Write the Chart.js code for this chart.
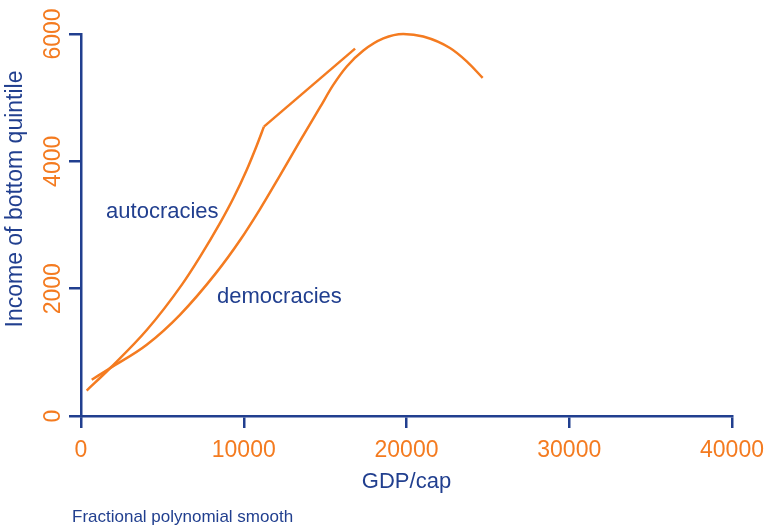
<!DOCTYPE html>
<html lang="en">
<head>
<meta charset="UTF-8">
<title>Income of bottom quintile by GDP/cap</title>
<script src="https://cdn.jsdelivr.net/npm/chart.js"></script>
<style>
  html, body { margin: 0; padding: 0; background: #fff; }
</style>
</head>
<body>
<canvas id="chart" width="769" height="528"></canvas>
<script>
// fractional polynomial fits, GDP per capita vs income of the bottom quintile
const autocGdp    = [350, 1780, 4040, 6190, 7310, 8540, 9360, 10180, 10800, 11240, 16840];
const autocIncome = [400, 750, 1350, 2060, 2500, 3030, 3420, 3865, 4250, 4545, 5770];
const autocKink = 9; // fit turns into a straight run after this point

const demoGdp    = [660, 1780, 4040, 6080, 8340, 9770, 11000, 12230, 13460, 14690, 15500, 16330, 17350, 18580, 19800, 21030, 22670, 23700, 24680];
const demoIncome = [570, 750, 1120, 1590, 2260, 2760, 3250, 3780, 4320, 4850, 5200, 5490, 5740, 5930, 6000, 5960, 5780, 5570, 5310];

const xTicks = [0, 10000, 20000, 30000, 40000];
const yTicks = [0, 2000, 4000, 6000];

const groupLabels = ['autocracies', 'democracies'];
const groupAnchorGdp = [1540, 8360];
const groupAnchorIncome = [3105, 1770];

const ORANGE = '#f47b20';
const BLUE = '#213f8f';
const FONT = "'Liberation Sans', Arial, Helvetica, sans-serif";

function pts(xs, ys, from, to) {
    const out = [];
    for (let i = from; i <= to; i++) out.push({x: xs[i], y: ys[i]});
    return out;
}

const lineStyle = {
    showLine: true,
    borderColor: ORANGE,
    borderWidth: 2.5,
    pointRadius: 0,
    fill: false,
    clip: false
};

// text drawn straight onto the canvas: group names, y title, footnote
const annotations = {
    id: 'annotations',
    afterDraw(chart) {
        const ctx = chart.ctx;
        const xs = chart.scales.x, ys = chart.scales.y;
        ctx.save();
        ctx.fillStyle = BLUE;
        ctx.font = '22px ' + FONT;
        ctx.textAlign = 'left';
        ctx.textBaseline = 'alphabetic';
        groupLabels.forEach((t, i) => {
            ctx.fillText(t, xs.getPixelForValue(groupAnchorGdp[i]), ys.getPixelForValue(groupAnchorIncome[i]));
        });

        ctx.save();
        ctx.translate(16, 199);
        ctx.rotate(-Math.PI / 2);
        ctx.textAlign = 'center';
        ctx.textBaseline = 'middle';
        ctx.font = '23px ' + FONT;
        ctx.fillText('Income of bottom quintile', 0, 0);
        ctx.restore();

        ctx.font = '17px ' + FONT;
        ctx.fillText('Fractional polynomial smooth', 72, 522);
        ctx.restore();
    }
};

new Chart(document.getElementById('chart').getContext('2d'), {
    type: 'scatter',
    data: {
        datasets: [
            Object.assign({label: 'autocracies', data: pts(autocGdp, autocIncome, 0, autocKink), cubicInterpolationMode: 'monotone'}, lineStyle),
            Object.assign({label: 'autocracies', data: pts(autocGdp, autocIncome, autocKink, autocGdp.length - 1), tension: 0}, lineStyle),
            Object.assign({label: 'democracies', data: pts(demoGdp, demoIncome, 0, demoGdp.length - 1), cubicInterpolationMode: 'monotone'}, lineStyle)
        ]
    },
    options: {
        responsive: false,
        animation: false,
        layout: { padding: { top: 34, right: 37, left: 0, bottom: 0 } },
        plugins: {
            legend: { display: false },
            tooltip: { enabled: false }
        },
        scales: {
            x: {
                type: 'linear',
                min: 0,
                max: 40000,
                afterBuildTicks: s => { s.ticks = xTicks.map(v => ({value: v})); },
                afterFit: s => { s.height = 112; s.paddingRight = 37; },
                grid: { drawOnChartArea: false, drawTicks: true, tickLength: 12, color: BLUE, lineWidth: 2.5 },
                border: { color: BLUE, width: 2.5 },
                ticks: { color: ORANGE, font: { size: 23, family: FONT }, padding: 9, maxRotation: 0, callback: v => String(v) },
                title: { display: true, text: 'GDP/cap', color: BLUE, font: { size: 22, family: FONT }, padding: { top: 0, bottom: 33 } }
            },
            y: {
                type: 'linear',
                min: 0,
                max: 6000,
                afterBuildTicks: s => { s.ticks = yTicks.map(v => ({value: v})); },
                afterFit: s => { s.width = 81; },
                grid: { drawOnChartArea: false, drawTicks: true, tickLength: 12, color: BLUE, lineWidth: 2.5 },
                border: { color: BLUE, width: 2.5 },
                ticks: { color: ORANGE, font: { size: 23, family: FONT }, minRotation: 90, maxRotation: 90, crossAlign: 'center', padding: -10, callback: v => String(v) }
            }
        }
    },
    plugins: [annotations]
});
</script>
</body>
</html>
